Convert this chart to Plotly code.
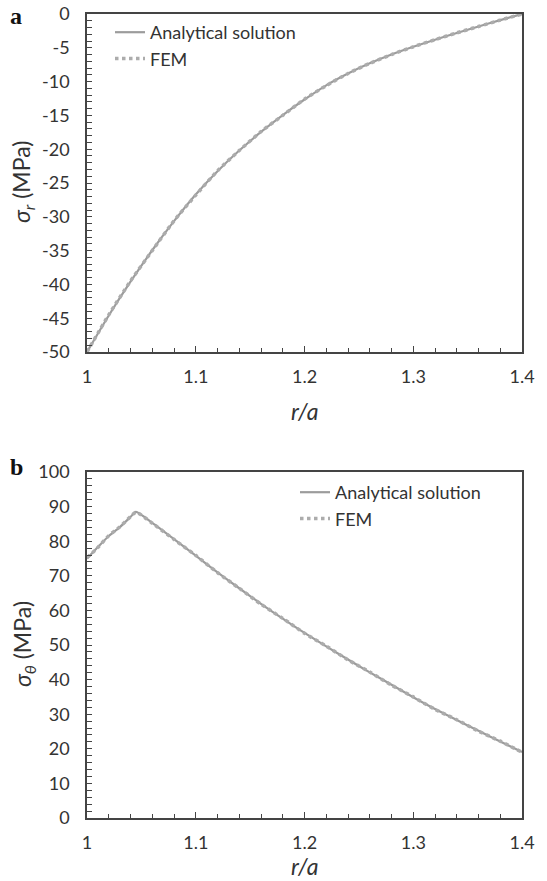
import plotly.graph_objects as go

# ---- data ----
r_a = [1.00, 1.02, 1.04, 1.06, 1.08, 1.10, 1.12, 1.14, 1.16, 1.18, 1.20,
       1.22, 1.24, 1.26, 1.28, 1.30, 1.32, 1.34, 1.36, 1.38, 1.40]
sigma_r_analytical = [-50.0, -44.6, -39.6, -34.95, -30.65, -26.7, -23.25, -20.2, -17.45, -14.95, -12.65,
                      -10.55, -8.8, -7.3, -6.0, -4.85, -3.8, -2.8, -1.85, -0.9, 0.0]
sigma_r_fem = [-50.0, -44.5, -39.5, -35.0, -30.6, -26.8, -23.2, -20.2, -17.4, -15.0, -12.6,
               -10.6, -8.8, -7.3, -6.0, -4.85, -3.8, -2.8, -1.85, -0.9, 0.0]

r_b = [1.00, 1.01, 1.02, 1.03, 1.04, 1.045, 1.06, 1.08, 1.10, 1.12, 1.14, 1.16, 1.18, 1.20,
       1.22, 1.24, 1.26, 1.28, 1.30, 1.32, 1.34, 1.36, 1.38, 1.40]
sigma_t_analytical = [75.0, 78.3, 81.5, 84.0, 87.0, 88.5, 85.3, 80.6, 75.8, 71.0, 66.4, 61.9, 57.6, 53.5,
                      49.6, 45.8, 42.1, 38.5, 34.9, 31.5, 28.3, 25.2, 22.1, 19.1]
sigma_t_fem = [75.2, 78.2, 81.6, 84.1, 87.1, 88.4, 85.2, 80.5, 75.9, 70.9, 66.4, 61.8, 57.7, 53.4,
               49.7, 45.7, 42.2, 38.4, 35.0, 31.4, 28.4, 25.1, 22.2, 19.0]

x_ticks = [1, 1.1, 1.2, 1.3, 1.4]
x_tick_text = ["1", "1.1", "1.2", "1.3", "1.4"]
ya_ticks = [0, -5, -10, -15, -20, -25, -30, -35, -40, -45, -50]
ya_tick_text = ["0", "-5", "-10", "-15", "-20", "-25", "-30", "-35", "-40", "-45", "-50"]
yb_ticks = [0, 10, 20, 30, 40, 50, 60, 70, 80, 90, 100]
yb_tick_text = ["0", "10", "20", "30", "40", "50", "60", "70", "80", "90", "100"]

W, H = 547, 881
LINE_COL = "#9c9c9c"
DOT_COL = "#acacac"
AX_COL = "#444444"
FONT = "Lato"

fig = go.Figure()
for xs, ya, yf, xa, yax, lg in [(r_a, sigma_r_analytical, sigma_r_fem, "x", "y", "legend"),
                                (r_b, sigma_t_analytical, sigma_t_fem, "x2", "y2", "legend2")]:
    fig.add_trace(go.Scatter(x=xs, y=ya, mode="lines", name="Analytical solution",
                             line=dict(color=LINE_COL, width=2.2, shape="spline", smoothing=0.6),
                             xaxis=xa, yaxis=yax, legend=lg))
    fig.add_trace(go.Scatter(x=xs, y=yf, mode="lines", name="FEM",
                             line=dict(color=DOT_COL, width=3.5, dash="dot", shape="spline", smoothing=0.6),
                             xaxis=xa, yaxis=yax, legend=lg))

def px_x(p):
    return p / W

def px_y(p):
    return 1 - p / H

xdom = [px_x(87), px_x(522)]
common_x = dict(range=[1, 1.4], tickmode="array", tickvals=x_ticks, ticktext=x_tick_text,
                ticks="inside", ticklen=6, tickwidth=1, tickcolor=AX_COL,
                minor=dict(dtick=0.02, tick0=1, ticks="inside", ticklen=4, tickwidth=1, tickcolor=AX_COL),
                showline=True, linecolor=AX_COL, linewidth=1.5, mirror=True,
                showgrid=False, zeroline=False, automargin=False, ticklabelstandoff=8,
                tickfont=dict(family=FONT, size=18, color="#333333"))
common_y = dict(ticks="inside", ticklen=5, tickwidth=1, tickcolor=AX_COL, tickmode="array",
                showline=True, linecolor=AX_COL, linewidth=1.5, mirror=True,
                showgrid=False, zeroline=False, automargin=False, ticklabelstandoff=12,
                tickfont=dict(family=FONT, size=18, color="#333333"))

fig.update_layout(
    width=W, height=H, margin=dict(l=0, r=0, t=0, b=0),
    paper_bgcolor="white", plot_bgcolor="white",
    xaxis=dict(domain=xdom, anchor="y", **common_x),
    yaxis=dict(domain=[px_y(352), px_y(14)], anchor="x", range=[-50, 0],
               tickvals=ya_ticks, ticktext=ya_tick_text,
               minor=dict(dtick=1, tick0=0, ticks="inside", ticklen=5, tickwidth=1, tickcolor=AX_COL), **common_y),
    xaxis2=dict(domain=xdom, anchor="y2", **common_x),
    yaxis2=dict(domain=[px_y(818), px_y(472)], anchor="x2", range=[0, 100],
                tickvals=yb_ticks, ticktext=yb_tick_text,
                minor=dict(dtick=2, tick0=0, ticks="inside", ticklen=5, tickwidth=1, tickcolor=AX_COL), **common_y),
    legend=dict(x=px_x(110), y=px_y(14), xanchor="left", yanchor="top", bgcolor="rgba(0,0,0,0)",
                font=dict(family=FONT, size=18, color="#333333"), tracegroupgap=0, itemwidth=30),
    legend2=dict(x=px_x(295), y=px_y(474), xanchor="left", yanchor="top", bgcolor="rgba(0,0,0,0)",
                 font=dict(family=FONT, size=18, color="#333333"), tracegroupgap=0, itemwidth=30),
    showlegend=True,
)

ann_font = dict(family=FONT, size=23, color="#333333")
fig.add_annotation(text="<i>σ<sub>r</sub></i> (MPa)", x=px_x(23), y=px_y(182), xref="paper", yref="paper",
                   textangle=-90, showarrow=False, font=ann_font, xanchor="center", yanchor="middle")
fig.add_annotation(text="<i>σ<sub>θ</sub></i> (MPa)", x=px_x(23), y=px_y(644), xref="paper", yref="paper",
                   textangle=-90, showarrow=False, font=ann_font, xanchor="center", yanchor="middle")
fig.add_annotation(text="<i>r/a</i>", x=px_x(304), y=px_y(411), xref="paper", yref="paper",
                   showarrow=False, font=ann_font, xanchor="center", yanchor="middle")
fig.add_annotation(text="<i>r/a</i>", x=px_x(304), y=px_y(866), xref="paper", yref="paper",
                   showarrow=False, font=ann_font, xanchor="center", yanchor="middle")
panel_font = dict(family="Liberation Serif", size=24, color="#111111")
fig.add_annotation(text="<b>a</b>", x=px_x(16), y=px_y(16), xref="paper", yref="paper",
                   showarrow=False, font=panel_font, xanchor="center", yanchor="middle")
fig.add_annotation(text="<b>b</b>", x=px_x(16), y=px_y(467), xref="paper", yref="paper",
                   showarrow=False, font=panel_font, xanchor="center", yanchor="middle")

fig.write_html("out.html")
